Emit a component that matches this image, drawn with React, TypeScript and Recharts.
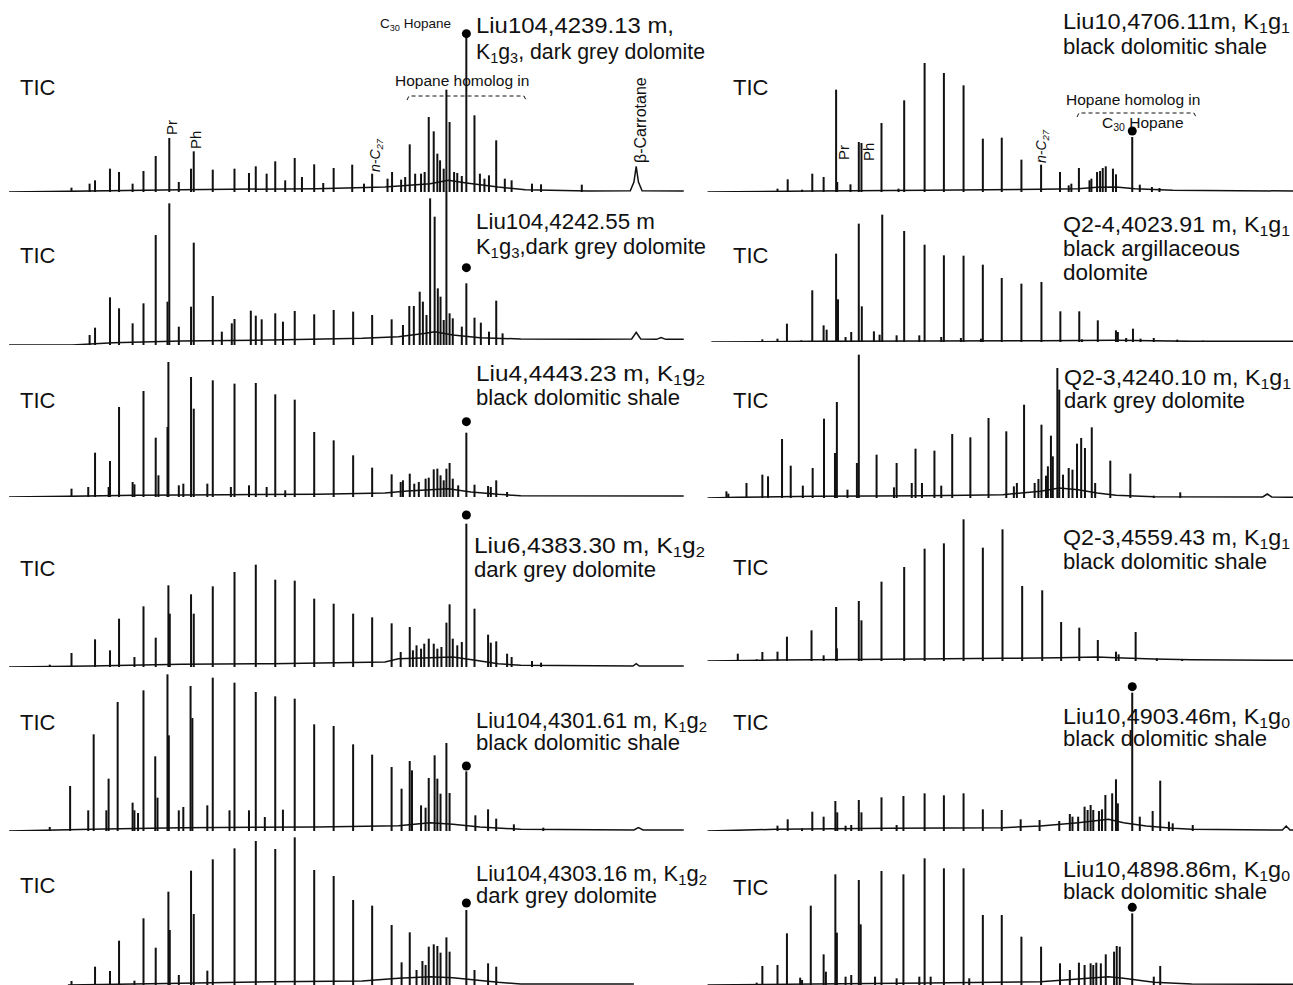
import React from "react";
import { Bar, ComposedChart, Line, ReferenceDot, XAxis, YAxis } from "recharts";

type Pair = [number, number];

// retention (arbitrary trace units) and relative abundance
const RT_DOMAIN: [number, number] = [0, 1568];
const AB_DOMAIN: [number, number] = [0, 600];

// ---- left column ----
const liu104_4239_peaks: Pair[] = [
  [158, 13], [198, 25], [210, 35], [243, 70], [263, 60], [293, 25], [317, 63], [344, 108],
  [374, 162], [395, 30], [422, 70], [428, 122], [470, 67], [518, 70], [550, 57], [565, 77],
  [589, 55], [608, 92], [630, 35], [651, 102], [667, 45], [694, 83], [714, 27], [737, 72],
  [778, 82], [804, 25], [822, 55], [856, 40], [866, 60], [886, 37], [895, 45], [905, 143], [917, 55],
  [930, 55], [938, 60], [947, 225], [958, 182], [966, 115], [972, 95], [980, 70], [986, 307], [993, 210],
  [1003, 60], [1010, 57], [1020, 48], [1030, 465], [1048, 230], [1060, 55], [1070, 40], [1080, 50],
  [1096, 155], [1115, 40], [1130, 35], [1175, 25], [1195, 23], [1285, 22],
];
const liu104_4239_ucm: Pair[] = [
  [20, 0], [150, 2], [400, 7], [700, 10], [850, 15], [950, 25], [990, 35], [1030, 27],
  [1100, 15], [1160, 7], [1300, 3], [1392, 4], [1400, 30], [1405, 77], [1410, 30], [1418, 4], [1510, 3],
];
const liu104_4239_hopane: Pair = [1030, 475];

const liu104_4242_peaks: Pair[] = [
  [198, 30], [210, 52], [243, 143], [263, 110], [293, 65], [317, 125], [344, 330], [370, 130],
  [374, 425], [395, 55], [422, 115], [428, 307], [470, 147], [490, 40], [512, 65], [518, 78],
  [554, 103], [565, 88], [578, 77], [608, 95], [625, 70], [651, 102], [694, 92], [737, 105],
  [780, 100], [822, 90], [865, 77], [890, 60], [904, 117], [914, 117], [927, 160], [934, 130],
  [942, 90], [950, 440], [960, 385], [967, 170], [973, 145], [980, 75], [986, 460], [993, 95],
  [1000, 80], [1020, 55], [1030, 185], [1048, 82], [1062, 67], [1080, 40], [1096, 133], [1110, 35],
];
const liu104_4242_ucm: Pair[] = [
  [20, 0], [160, 0], [250, 7], [400, 12], [600, 15], [800, 20], [880, 25], [940, 35], [960, 40],
  [1000, 30], [1060, 22], [1150, 18], [1300, 17], [1395, 18], [1405, 38], [1415, 18], [1450, 17],
  [1460, 22], [1470, 17], [1510, 17],
];
const liu104_4242_hopane: Pair = [1030, 232];

const liu4_4443_peaks: Pair[] = [
  [158, 25], [195, 30], [210, 133], [240, 30], [243, 108], [263, 270], [293, 45], [297, 38],
  [317, 318], [344, 178], [350, 65], [370, 210], [372, 405], [395, 35], [405, 40], [422, 360],
  [428, 265], [458, 40], [470, 350], [510, 30], [518, 340], [550, 35], [565, 342], [589, 30],
  [608, 308], [630, 20], [651, 292], [694, 195], [737, 170], [780, 125], [822, 88], [865, 68],
  [885, 45], [890, 50], [905, 70], [915, 40], [925, 45], [940, 55], [947, 58], [958, 83], [966, 85],
  [973, 65], [980, 50], [986, 85], [993, 102], [1000, 55], [1012, 35], [1030, 193], [1048, 37],
  [1078, 33], [1084, 30], [1096, 50], [1120, 15],
];
const liu4_4443_ucm: Pair[] = [
  [20, 0], [150, 2], [300, 5], [500, 7], [700, 8], [850, 12], [900, 18], [950, 22], [990, 25],
  [1040, 15], [1100, 8], [1150, 4], [1510, 3],
];
const liu4_4443_hopane: Pair = [1030, 226];

const liu6_4383_peaks: Pair[] = [
  [110, 7], [158, 42], [210, 83], [243, 50], [263, 145], [297, 30], [317, 182], [344, 88],
  [372, 245], [375, 160], [422, 218], [428, 160], [470, 242], [518, 285], [565, 307], [608, 262],
  [651, 259], [694, 205], [737, 190], [780, 160], [822, 149], [865, 131], [885, 45], [905, 120],
  [912, 50], [920, 65], [930, 55], [937, 70], [947, 85], [958, 70], [966, 55], [975, 60], [986, 133],
  [993, 188], [1000, 85], [1010, 65], [1020, 75], [1030, 430], [1048, 175], [1078, 97], [1084, 73],
  [1096, 77], [1120, 40], [1130, 30], [1175, 18], [1195, 13],
];
const liu6_4383_ucm: Pair[] = [
  [20, 0], [200, 3], [400, 8], [600, 10], [850, 15], [880, 25], [950, 28], [1000, 30],
  [1050, 20], [1100, 10], [1150, 5], [1398, 3], [1405, 10], [1412, 3], [1510, 3],
];
const liu6_4383_hopane: Pair = [1030, 456];

const liu104_4301_peaks: Pair[] = [
  [110, 12], [155, 135], [195, 62], [207, 290], [235, 62], [240, 157], [260, 387], [293, 85],
  [297, 62], [305, 54], [317, 422], [343, 224], [348, 100], [370, 470], [373, 287], [395, 62],
  [405, 72], [421, 435], [425, 339], [458, 77], [470, 460], [507, 62], [518, 445], [550, 62],
  [565, 417], [585, 42], [608, 404], [625, 64], [651, 397], [694, 320], [737, 315], [780, 260],
  [822, 229], [865, 192], [887, 127], [905, 210], [910, 182], [930, 77], [940, 70], [947, 159],
  [960, 227], [966, 157], [973, 112], [986, 264], [993, 114], [1030, 179], [1050, 47], [1078, 65],
  [1096, 37], [1135, 20], [1200, 10],
];
const liu104_4301_ucm: Pair[] = [
  [20, 0], [200, 5], [400, 10], [700, 12], [880, 16], [950, 25], [1000, 20], [1060, 12],
  [1150, 5], [1400, 3], [1410, 10], [1420, 3], [1510, 3],
];
const liu104_4301_hopane: Pair = [1030, 195];

const liu104_4303_peaks: Pair[] = [
  [158, 12], [210, 55], [243, 42], [263, 133], [297, 13], [317, 200], [344, 112], [372, 280],
  [375, 165], [395, 30], [422, 343], [428, 213], [458, 43], [470, 377], [518, 410], [565, 432],
  [608, 408], [651, 443], [694, 345], [737, 327], [780, 255], [822, 238], [865, 180], [887, 68],
  [905, 158], [920, 45], [933, 72], [940, 60], [947, 115], [958, 122], [966, 117], [973, 97],
  [986, 143], [993, 100], [1030, 225], [1048, 45], [1078, 65], [1096, 55],
];
const liu104_4303_ucm: Pair[] = [
  [150, 0], [400, 5], [600, 10], [800, 12], [880, 20], [950, 25], [1000, 22], [1050, 15],
  [1100, 8], [1150, 3], [1400, 3],
];
const liu104_4303_hopane: Pair = [1030, 246];

// ---- right column ----
const liu10_4706_peaks: Pair[] = [
  [165, 3], [205, 10], [232, 38], [270, 7], [297, 55], [327, 45], [360, 307], [363, 30],
  [398, 23], [420, 150], [427, 147], [480, 207], [525, 10], [540, 275], [594, 387], [645, 357],
  [697, 320], [748, 160], [798, 163], [850, 97], [902, 82], [952, 60], [975, 20], [982, 25],
  [1002, 72], [1030, 35], [1035, 40], [1050, 60], [1058, 63], [1065, 72], [1073, 77], [1092, 70],
  [1100, 53], [1143, 165], [1163, 22], [1195, 15], [1215, 12],
];
const liu10_4706_ucm: Pair[] = [
  [20, 0], [300, 3], [600, 5], [900, 8], [1000, 10], [1050, 14], [1100, 15], [1150, 10],
  [1250, 5], [1568, 3],
];
const liu10_4706_hopane: Pair = [1143, 183];

const q24_4023_peaks: Pair[] = [
  [165, 8], [205, 10], [230, 55], [268, 5], [297, 155], [327, 50], [335, 37], [360, 265],
  [365, 128], [385, 15], [400, 30], [420, 355], [428, 107], [460, 32], [475, 22], [482, 382],
  [520, 20], [540, 333], [580, 20], [594, 292], [638, 15], [645, 260], [690, 12], [697, 259],
  [743, 10], [748, 232], [798, 192], [850, 175], [903, 180], [953, 92], [1003, 92], [1010, 8],
  [1052, 65], [1100, 35], [1105, 30], [1127, 12], [1145, 40], [1165, 10], [1200, 12], [1262, 7],
  [1330, 4],
];
const q24_4023_ucm: Pair[] = [
  [30, 0], [300, 2], [600, 3], [900, 4], [1100, 5], [1300, 2], [1568, 2],
];

const q23_4240_peaks: Pair[] = [
  [70, 20], [75, 13], [123, 45], [165, 70], [180, 65], [217, 177], [240, 97], [272, 37],
  [298, 90], [328, 238], [357, 135], [362, 288], [390, 25], [415, 105], [420, 430], [467, 130],
  [513, 32], [520, 105], [560, 45], [570, 148], [587, 45], [620, 142], [638, 37], [667, 192],
  [715, 182], [763, 240], [810, 200], [830, 35], [838, 45], [857, 280], [885, 45], [895, 57],
  [903, 220], [915, 67], [920, 95], [928, 187], [933, 125], [945, 390], [950, 325], [960, 70],
  [975, 90], [985, 85], [997, 163], [1008, 180], [1018, 150], [1036, 212], [1045, 45], [1085, 112],
  [1138, 73], [1200, 7], [1270, 17],
];
const q23_4240_ucm: Pair[] = [
  [20, 0], [100, 2], [300, 5], [600, 7], [800, 10], [850, 15], [900, 20], [950, 30], [1000, 25],
  [1050, 15], [1100, 8], [1200, 4], [1488, 3], [1500, 12], [1512, 3], [1568, 2],
];

const q23_4559_peaks: Pair[] = [
  [100, 22], [150, 5], [165, 27], [205, 28], [230, 73], [295, 92], [327, 17], [360, 162],
  [362, 38], [420, 180], [427, 122], [480, 238], [540, 282], [594, 337], [645, 353], [697, 425],
  [748, 340], [800, 395], [852, 225], [905, 212], [955, 117], [1003, 100], [1052, 63], [1100, 28],
  [1107, 20], [1152, 87], [1208, 8], [1275, 5],
];
const q23_4559_ucm: Pair[] = [
  [20, 0], [200, 3], [500, 5], [800, 8], [950, 10], [1050, 12], [1100, 10], [1200, 6],
  [1300, 4], [1568, 2],
];

const liu10_4903_peaks: Pair[] = [
  [205, 16], [232, 35], [270, 8], [297, 58], [327, 43], [358, 90], [363, 56], [385, 16],
  [400, 18], [420, 93], [427, 56], [480, 101], [520, 18], [538, 105], [594, 113], [645, 107],
  [697, 113], [748, 65], [798, 63], [848, 35], [898, 33], [950, 30], [978, 51], [985, 43],
  [1000, 43], [1017, 73], [1025, 63], [1033, 78], [1040, 63], [1055, 60], [1063, 65], [1072, 108],
  [1090, 113], [1100, 155], [1105, 83], [1143, 415], [1163, 43], [1197, 60], [1217, 151],
  [1240, 28], [1250, 23], [1303, 18],
];
const liu10_4903_ucm: Pair[] = [
  [20, 0], [200, 5], [500, 8], [800, 10], [900, 15], [1000, 25], [1080, 35], [1120, 25],
  [1180, 15], [1250, 8], [1300, 5], [1540, 3], [1550, 15], [1560, 3], [1568, 3],
];
const liu10_4903_hopane: Pair = [1143, 433];

const liu10_4898_peaks: Pair[] = [
  [150, 7], [165, 57], [205, 60], [230, 155], [265, 22], [270, 15], [293, 238], [327, 92],
  [333, 40], [358, 332], [362, 157], [385, 25], [400, 30], [420, 315], [425, 182], [463, 25],
  [480, 342], [520, 20], [538, 332], [580, 25], [594, 380], [610, 25], [645, 350], [697, 350],
  [712, 20], [748, 210], [798, 210], [850, 145], [902, 115], [952, 65], [978, 45], [1002, 67],
  [1017, 60], [1033, 65], [1040, 60], [1048, 67], [1060, 65], [1073, 92], [1095, 100],
  [1102, 117], [1110, 115], [1143, 215], [1200, 25], [1217, 57],
];
const liu10_4898_ucm: Pair[] = [
  [20, 0], [300, 3], [600, 6], [900, 10], [1000, 18], [1080, 25], [1120, 20], [1200, 8],
  [1300, 3], [1568, 2],
];
const liu10_4898_hopane: Pair = [1143, 233];

// ---- sample captions ----
const captionsLeft = [
  ["Liu104,4239.13 m,", "K{1}g{3}, dark grey dolomite"],
  ["Liu104,4242.55 m", "K{1}g{3},dark grey dolomite"],
  ["Liu4,4443.23 m, K{1}g{2}", "black dolomitic shale"],
  ["Liu6,4383.30 m, K{1}g{2}", "dark grey dolomite"],
  ["Liu104,4301.61 m, K{1}g{2}", "black dolomitic shale"],
  ["Liu104,4303.16 m, K{1}g{2}", "dark grey dolomite"],
];
const captionsRight = [
  ["Liu10,4706.11m, K{1}g{1}", "black dolomitic shale"],
  ["Q2-4,4023.91 m, K{1}g{1}", "black argillaceous", "dolomite"],
  ["Q2-3,4240.10 m, K{1}g{1}", "dark grey dolomite"],
  ["Q2-3,4559.43 m, K{1}g{1}", "black dolomitic shale"],
  ["Liu10,4903.46m, K{1}g{0}", "black dolomitic shale"],
  ["Liu10,4898.86m, K{1}g{0}", "black dolomitic shale"],
];

type Panel = {
  col: 0 | 1;
  base: number;
  peaks: Pair[];
  ucm: Pair[];
  hopane?: Pair;
  caption: string[];
  capX: number;
  capY: number[];
  capW: number[];
  ticY: number;
};

const panels: Panel[] = [
  { col: 0, base: 192, peaks: liu104_4239_peaks, ucm: liu104_4239_ucm, hopane: liu104_4239_hopane, caption: captionsLeft[0], capX: 476, capY: [33, 59], capW: [198, 229], ticY: 95 },
  { col: 0, base: 345, peaks: liu104_4242_peaks, ucm: liu104_4242_ucm, hopane: liu104_4242_hopane, caption: captionsLeft[1], capX: 476, capY: [229, 254], capW: [179, 230], ticY: 263 },
  { col: 0, base: 497, peaks: liu4_4443_peaks, ucm: liu4_4443_ucm, hopane: liu4_4443_hopane, caption: captionsLeft[2], capX: 476, capY: [381, 405], capW: [229, 204], ticY: 408 },
  { col: 0, base: 667, peaks: liu6_4383_peaks, ucm: liu6_4383_ucm, hopane: liu6_4383_hopane, caption: captionsLeft[3], capX: 474, capY: [553, 577], capW: [231, 182], ticY: 576 },
  { col: 0, base: 831, peaks: liu104_4301_peaks, ucm: liu104_4301_ucm, hopane: liu104_4301_hopane, caption: captionsLeft[4], capX: 476, capY: [728, 750], capW: [231, 204], ticY: 730 },
  { col: 0, base: 985, peaks: liu104_4303_peaks, ucm: liu104_4303_ucm, hopane: liu104_4303_hopane, caption: captionsLeft[5], capX: 476, capY: [881, 903], capW: [231, 181], ticY: 893 },
  { col: 1, base: 192, peaks: liu10_4706_peaks, ucm: liu10_4706_ucm, hopane: liu10_4706_hopane, caption: captionsRight[0], capX: 1063, capY: [29, 54], capW: [227, 204], ticY: 95 },
  { col: 1, base: 342, peaks: q24_4023_peaks, ucm: q24_4023_ucm, caption: captionsRight[1], capX: 1063, capY: [232, 256, 280], capW: [227, 177, 85], ticY: 263 },
  { col: 1, base: 498, peaks: q23_4240_peaks, ucm: q23_4240_ucm, caption: captionsRight[2], capX: 1064, capY: [385, 408], capW: [227, 181], ticY: 408 },
  { col: 1, base: 661, peaks: q23_4559_peaks, ucm: q23_4559_ucm, caption: captionsRight[3], capX: 1063, capY: [545, 569], capW: [227, 204], ticY: 575 },
  { col: 1, base: 831, peaks: liu10_4903_peaks, ucm: liu10_4903_ucm, hopane: liu10_4903_hopane, caption: captionsRight[4], capX: 1063, capY: [724, 746], capW: [227, 204], ticY: 730 },
  { col: 1, base: 985, peaks: liu10_4898_peaks, ucm: liu10_4898_ucm, hopane: liu10_4898_hopane, caption: captionsRight[5], capX: 1063, capY: [877, 899], capW: [227, 204], ticY: 895 },
];

const FONT = "'Liberation Sans', Arial, Helvetica, sans-serif";
const INK = "#111";
const CHART_H = 200;
const CAP_SIZE = 21.5;

const rows = (arr: Pair[]) => arr.map(([rt, ab]) => ({ rt, ab }));

// "K{1}g{3}" -> K with subscript 1, g with subscript 3
function Rich({ s, size }: { s: string; size: number }) {
  const parts = s.split(/(\{[^}]*\})/).filter((p) => p.length > 0);
  const shift = size * 0.2;
  let down = false;
  return (
    <>
      {parts.map((p, i) => {
        if (p.startsWith("{")) {
          const dy = down ? 0 : shift;
          down = true;
          return (
            <tspan key={i} fontSize={size * 0.68} dy={dy}>
              {p.slice(1, -1)}
            </tspan>
          );
        }
        const dy = down ? -shift : 0;
        down = false;
        return (
          <tspan key={i} dy={dy}>
            {p}
          </tspan>
        );
      })}
    </>
  );
}

// each peak as a 2px stick from the baseline up to its apex
const PeakStick = (props: any) => {
  const { x, y, width, height } = props;
  if (height == null || height <= 0) return <g />;
  return <rect x={x + width / 2 - 1} y={y} width={2} height={height} fill={INK} />;
};

function Trace({ p }: { p: Panel }) {
  const left = p.col === 0 ? 0 : 700;
  const width = p.col === 0 ? 710 : 593;
  return (
    <div style={{ position: "absolute", left, top: p.base - CHART_H, width, height: CHART_H }}>
      <ComposedChart
        width={width}
        height={CHART_H}
        data={rows(p.peaks)}
        margin={{ top: 0, right: 0, bottom: 0, left: 0 }}
      >
        <XAxis type="number" dataKey="rt" domain={RT_DOMAIN} hide allowDataOverflow />
        <YAxis type="number" domain={AB_DOMAIN} hide allowDataOverflow />
        <Line
          data={rows(p.ucm)}
          dataKey="ab"
          type="linear"
          stroke={INK}
          strokeWidth={1.5}
          dot={false}
          activeDot={false}
          isAnimationActive={false}
        />
        <Bar dataKey="ab" fill={INK} barSize={2} shape={PeakStick} isAnimationActive={false} />
        {p.hopane && (
          <ReferenceDot x={p.hopane[0]} y={p.hopane[1]} r={4.5} fill="#000" stroke="none" />
        )}
      </ComposedChart>
    </div>
  );
}

function Vertical({ x, y, size, children, italic }: { x: number; y: number; size: number; children: React.ReactNode; italic?: boolean }) {
  return (
    <text
      transform={`translate(${x},${y}) rotate(-90)`}
      fontSize={size}
      fontStyle={italic ? "italic" : "normal"}
      fill={INK}
    >
      {children}
    </text>
  );
}

export default function App() {
  return (
    <div style={{ position: "absolute", left: 0, top: 0, width: 1293, height: 985, background: "#fff", overflow: "hidden" }}>
      {panels.map((p, i) => (
        <Trace key={i} p={p} />
      ))}
      <svg
        width={1293}
        height={985}
        style={{ position: "absolute", left: 0, top: 0, pointerEvents: "none" }}
        fontFamily={FONT}
      >
        {panels.map((p, i) => (
          <g key={i}>
            <text x={p.col === 0 ? 20 : 733} y={p.ticY} fontSize={22} fill={INK}>
              TIC
            </text>
            {p.caption.map((line, j) => (
              <text
                key={j}
                x={p.capX}
                y={p.capY[j]}
                fontSize={CAP_SIZE}
                fill={INK}
                textLength={p.capW[j]}
                lengthAdjust="spacingAndGlyphs"
              >
                <Rich s={line} size={CAP_SIZE} />
              </text>
            ))}
          </g>
        ))}

        {/* compound annotations, upper-left trace */}
        <text x={380} y={28} fontSize={13.5} fill={INK}>
          <Rich s={"C{30} Hopane"} size={13.5} />
        </text>
        <text x={395} y={86} fontSize={15.5} fill={INK}>Hopane homolog in</text>
        <path d="M407,100 L409,96 H524 L526,100" fill="none" stroke={INK} strokeWidth={1} strokeDasharray="4 3" />
        <Vertical x={177} y={135} size={15}>Pr</Vertical>
        <Vertical x={201} y={149} size={15}>Ph</Vertical>
        <Vertical x={380} y={172} size={14} italic>
          <Rich s={"n-C{27}"} size={14} />
        </Vertical>
        <Vertical x={646} y={163} size={16}>β-Carrotane</Vertical>

        {/* compound annotations, upper-right trace */}
        <text x={1066} y={105} fontSize={15.5} fill={INK}>Hopane homolog in</text>
        <path d="M1077,117 L1079,113 H1194 L1196,117" fill="none" stroke={INK} strokeWidth={1} strokeDasharray="4 3" />
        <text x={1102} y={128} fontSize={15.5} fill={INK}>
          <Rich s={"C{30} Hopane"} size={15.5} />
        </text>
        <Vertical x={849} y={160} size={15}>Pr</Vertical>
        <Vertical x={874} y={161} size={15}>Ph</Vertical>
        <Vertical x={1046} y={163} size={14} italic>
          <Rich s={"n-C{27}"} size={14} />
        </Vertical>
      </svg>
    </div>
  );
}
